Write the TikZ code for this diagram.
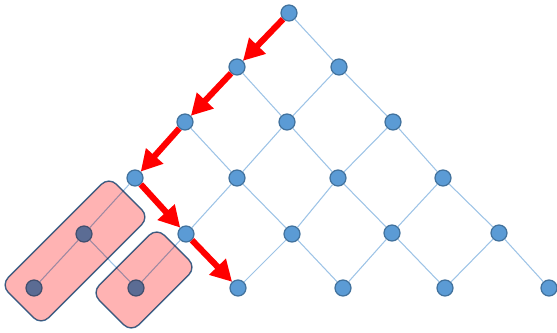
\documentclass[tikz,border=0pt]{standalone}
\usepackage{tikz}
\usetikzlibrary{positioning, arrows.meta}
\definecolor{dotfill}{HTML}{5B9BD5}
\definecolor{dotline}{HTML}{41719C}
\definecolor{linkcol}{HTML}{9DC3E6}
\definecolor{grpfill}{HTML}{FF8080}

\begin{document}
\begin{tikzpicture}[x=0.02cm, y=-0.02cm,
        dot/.style={draw=dotline, fill=dotfill, line width=0.7pt, circle, inner sep=0pt, minimum size=0.32cm},
        link/.style={draw=linkcol, line width=0.6pt},
        grp/.style={draw=dotline, line width=0.8pt, fill=grpfill, fill opacity=0.6, blend mode=multiply, rounded corners=6pt, rotate=45, inner sep=0pt},
        walk/.style={draw=red, line width=3.5pt, -{Triangle[length=0.42cm, width=0.44cm]}}]
        \useasboundingbox (0,0) rectangle (557,333);

        \node[dot] (n0) at (289,13) {};
        \node[dot] (n1) at (237,67) {};
        \node[dot] (n2) at (339,67) {};
        \node[dot] (n3) at (185,122) {};
        \node[dot] (n4) at (287,122) {};
        \node[dot] (n5) at (393,122) {};
        \node[dot] (n6) at (135,178) {};
        \node[dot] (n7) at (237,178) {};
        \node[dot] (n8) at (338,178) {};
        \node[dot] (n9) at (443,178) {};
        \node[dot] (n10) at (84,234) {};
        \node[dot] (n11) at (186,234) {};
        \node[dot] (n12) at (292,234) {};
        \node[dot] (n13) at (392,233) {};
        \node[dot] (n14) at (499,233) {};
        \node[dot] (n15) at (34,288) {};
        \node[dot] (n16) at (136,288) {};
        \node[dot] (n17) at (238,288) {};
        \node[dot] (n18) at (343,288) {};
        \node[dot] (n19) at (445,288) {};
        \node[dot] (n20) at (549,288) {};

        \draw[link] (n0) -- (n1);
        \draw[link] (n0) -- (n2);
        \draw[link] (n1) -- (n3);
        \draw[link] (n1) -- (n4);
        \draw[link] (n2) -- (n4);
        \draw[link] (n2) -- (n5);
        \draw[link] (n3) -- (n6);
        \draw[link] (n3) -- (n7);
        \draw[link] (n4) -- (n7);
        \draw[link] (n4) -- (n8);
        \draw[link] (n5) -- (n8);
        \draw[link] (n5) -- (n9);
        \draw[link] (n6) -- (n10);
        \draw[link] (n6) -- (n11);
        \draw[link] (n7) -- (n11);
        \draw[link] (n7) -- (n12);
        \draw[link] (n8) -- (n12);
        \draw[link] (n8) -- (n13);
        \draw[link] (n9) -- (n13);
        \draw[link] (n9) -- (n14);
        \draw[link] (n10) -- (n15);
        \draw[link] (n10) -- (n16);
        \draw[link] (n11) -- (n16);
        \draw[link] (n11) -- (n17);
        \draw[link] (n12) -- (n17);
        \draw[link] (n12) -- (n18);
        \draw[link] (n13) -- (n18);
        \draw[link] (n13) -- (n19);
        \draw[link] (n14) -- (n19);
        \draw[link] (n14) -- (n20);

        % groups over the lower left corner
        \node[grp, minimum width=3.06cm, minimum height=1.14cm] (g1) at (75,251) {};
        \node[grp, minimum width=1.84cm, minimum height=1.12cm] (g2) at (144,280) {};

        \draw[walk] (n0) -- (n1);
        \draw[walk] (n1) -- (n3);
        \draw[walk] (n3) -- (n6);
        \draw[walk] (n6) -- (n11);
        \draw[walk] (n11) -- (n17);
    \end{tikzpicture}
\end{document}
